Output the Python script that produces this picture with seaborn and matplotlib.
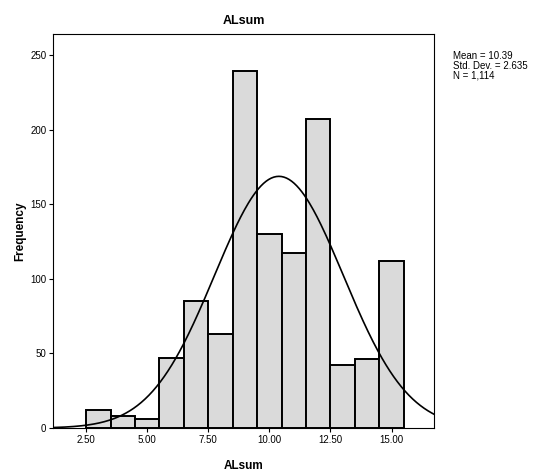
import numpy as np
import pandas as pd
import seaborn as sns
import matplotlib.pyplot as plt

# ALsum 히스토그램 (SPSS 스타일)
scores = [3, 4, 5, 6, 7, 8, 9, 10, 11, 12, 13, 14, 15]
counts = [12, 8, 6, 47, 85, 63, 239, 130, 117, 207, 42, 46, 112]
mean_val = 10.39
sd_val = 2.635
n_val = 1114
xticks = [2.5, 5.0, 7.5, 10.0, 12.5, 15.0]
xtick_labels = ['2.50', '5.00', '7.50', '10.00', '12.50', '15.00']
yticks = [0, 50, 100, 150, 200, 250]

sns.set_style('white')
plt.rcParams['font.family'] = ['Liberation Sans', 'DejaVu Sans']
plt.rcParams['text.color'] = 'black'
plt.rcParams['axes.labelcolor'] = 'black'
plt.rcParams['xtick.color'] = 'black'
plt.rcParams['ytick.color'] = 'black'

df = pd.DataFrame({'ALsum': scores, 'n': counts})

fig = plt.figure(figsize=(5.37, 4.73), dpi=100)
ax = fig.add_axes([0.0993, 0.095, 0.7095, 0.833])

sns.histplot(data=df, x='ALsum', weights='n', binwidth=1,
             binrange=(scores[0] - 0.5, scores[-1] + 0.5), ax=ax,
             color='#dadada', alpha=1, edgecolor='black', linewidth=1.4)

# 정규분포 곡선
xs = np.linspace(1.16, 16.75, 300)
ys = n_val * 1.0 * np.exp(-0.5 * ((xs - mean_val) / sd_val) ** 2) / (sd_val * np.sqrt(2 * np.pi))
sns.lineplot(x=xs, y=ys, ax=ax, color='black', linewidth=1.2)

ax.set_xlim(1.16, 16.75)
ax.set_ylim(0, 264)
ax.set_xticks(xticks)
ax.set_xticklabels(xtick_labels)
ax.set_yticks(yticks)
ax.tick_params(axis='both', labelsize=7, length=3, width=0.8, direction='out',
               bottom=True, left=True, pad=2)
for s in ax.spines.values():
    s.set_color('black')
    s.set_linewidth(0.8)

ax.set_title('ALsum', fontsize=9, fontweight='bold', pad=7)
ax.set_xlabel('ALsum', fontsize=8.5, fontweight='bold', labelpad=11)
ax.set_ylabel('Frequency', fontsize=8.5, fontweight='bold', labelpad=3)

fig.text(0.843, 0.893, 'Mean = 10.39\nStd. Dev. = 2.635\nN = 1,114',
         fontsize=7, va='top', ha='left', linespacing=1.0)

plt.savefig('out.png', dpi=100)
